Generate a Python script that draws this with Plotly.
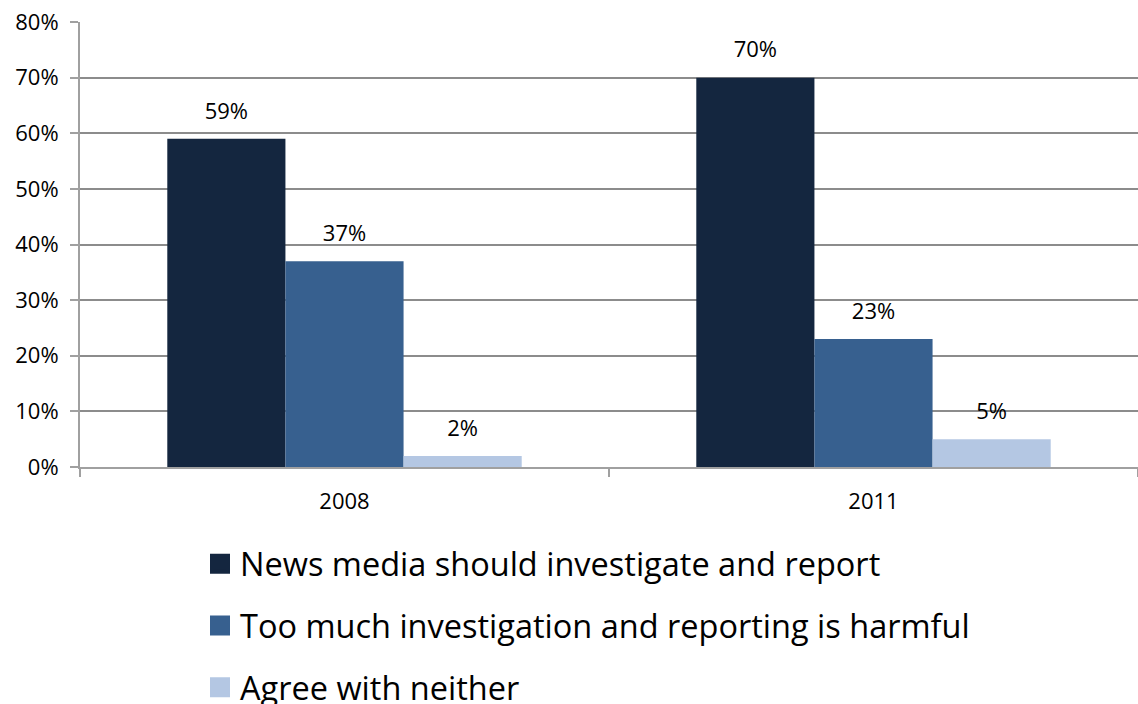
import plotly.graph_objects as go

categories = ["2008", "2011"]
series_names = [
    "News media should investigate and report",
    "Too much investigation and reporting is harmful",
    "Agree with neither",
]
news_media = [59, 70]
too_much = [37, 23]
neither = [2, 5]
y_ticks = [0, 10, 20, 30, 40, 50, 60, 70, 80]
y_tick_labels = [f"{v}%" for v in y_ticks]

colors = ["#14263F", "#37608F", "#B4C7E3"]
FONT = "Open Sans"
values = [news_media, too_much, neither]

fig = go.Figure()
for name, vals, col in zip(series_names, values, colors):
    fig.add_trace(go.Bar(
        x=categories, y=vals, name=name, marker=dict(color=col, line=dict(width=0)),
        showlegend=False, hoverinfo="skip",
    ))
# data labels: text scatter traces grouped like the bars
for name, vals in zip(series_names, values):
    fig.add_trace(go.Scatter(
        x=categories, y=vals, mode="markers+text", orientation="v",
        text=[f"{v}%" for v in vals], textposition="top center",
        textfont=dict(family=FONT, size=22, color="#000000"),
        marker=dict(size=22, opacity=0), cliponaxis=False,
        showlegend=False, hoverinfo="skip",
    ))
# legend entries (on a hidden overlay axis so they don't affect grouping)
for i, (name, col) in enumerate(zip(series_names, colors)):
    fig.add_trace(go.Scatter(
        x=[None], y=[None], mode="markers", name=name,
        marker=dict(symbol="square", size=16, color=col, line=dict(color=col, width=4)),
        legendgroup=f"g{i}", showlegend=True, xaxis="x2", yaxis="y2",
    ))

fig.update_layout(
    width=1138, height=704,
    margin=dict(l=80, r=0, t=22, b=237, autoexpand=False),
    paper_bgcolor="white", plot_bgcolor="white",
    barmode="group", bargap=0.33, bargroupgap=0,
    scattermode="group", scattergap=0.33,
    font=dict(family=FONT, size=22, color="#000000"),
    showlegend=True,
    legend=dict(
        xref="container", yref="container",
        x=200 / 1138, y=1 - 536 / 704, xanchor="left", yanchor="top",
        font=dict(family=FONT, size=32.5, color="#000000"),
        tracegroupgap=16.5, bgcolor="rgba(0,0,0,0)",
    ),
    xaxis2=dict(overlaying="x", visible=False),
    yaxis2=dict(overlaying="y", visible=False),
    xaxis=dict(
        showline=True, linecolor="#A0A0A0", linewidth=2,
        ticks="outside", tickson="boundaries", ticklen=8, tickcolor="#A0A0A0", tickwidth=2,
        ticklabelstandoff=14, showgrid=False, zeroline=False,
        tickfont=dict(family=FONT, size=22),
    ),
    yaxis=dict(
        range=[0, 80], tickvals=y_ticks, ticktext=y_tick_labels,
        showline=True, linecolor="#A0A0A0", linewidth=2,
        ticks="outside", ticklen=8, tickcolor="#A0A0A0", tickwidth=2,
        showgrid=True, gridcolor="#8C8C8C", gridwidth=2, zeroline=False,
        ticklabelstandoff=7,
        tickfont=dict(family=FONT, size=22),
    ),
)

fig.write_html("out.html")
